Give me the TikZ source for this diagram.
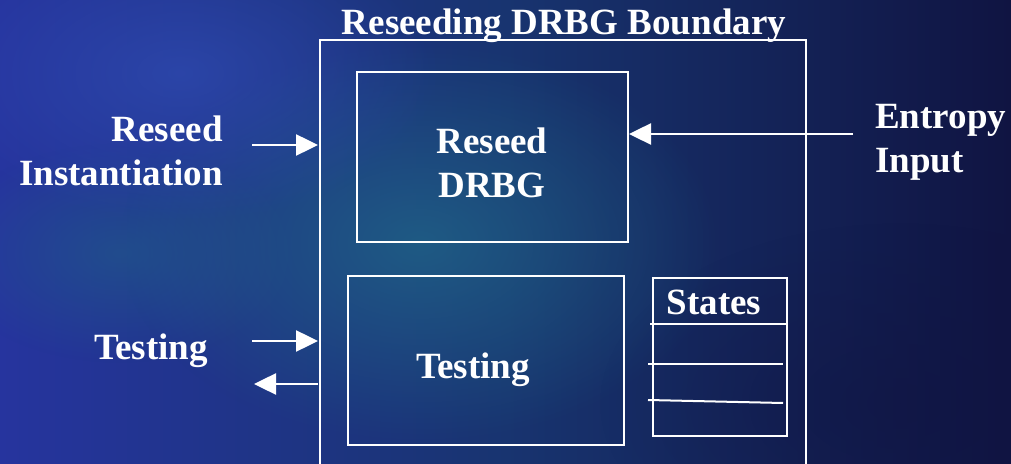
\documentclass[tikz,border=0pt]{standalone}
\usepackage{fontspec}
\setmainfont{Liberation Serif}
\usetikzlibrary{arrows.meta,fadings}
\tikzfading[name=softout,inner color=transparent!0,outer color=transparent!100]
\definecolor{bgA}{RGB}{38,52,158}
\definecolor{bgB}{RGB}{24,52,112}
\definecolor{bgC}{RGB}{16,20,66}
\definecolor{glow}{RGB}{32,100,135}
\definecolor{lite}{RGB}{50,80,185}
\tikzset{
  lbl/.style={text=white,font=\fontsize{37}{44}\selectfont\bfseries,inner sep=0pt},
  wline/.style={draw=white,line width=2pt},
  box/.style={draw=white,line width=2pt},
  arr/.style={white,line width=2.5pt,-{Triangle[length=22pt,width=21pt]}},
}
\begin{document}
\begin{tikzpicture}[x=1pt,y=1pt]
\useasboundingbox (0,0) rectangle (1011,463);
% background
\shade[left color=bgA,right color=bgC,middle color=bgB] (0,0) rectangle (1011,463);
\fill[glow,path fading=softout,opacity=0.8] (420,220) ellipse (300 and 200);
\fill[glow,path fading=softout,opacity=0.5] (120,210) ellipse (180 and 110);
\fill[lite,path fading=softout,opacity=0.6] (180,390) ellipse (260 and 150);
\fill[bgC,path fading=softout,opacity=0.5] (900,60) ellipse (300 and 180);
% outer boundary
\draw[wline] (320,-2) -- (320,423) -- (806,423) -- (806,-2);
\node[lbl,anchor=base] (title) at (564,428) {Reseeding DRBG Boundary};
% inner boxes
\node[box,minimum width=271pt,minimum height=170pt,inner sep=0pt] (drbg) at (492.5,306) {};
\node[lbl,align=center] (drbgtxt) at (492,300) {Reseed\\DRBG};
\node[box,minimum width=276pt,minimum height=169pt,inner sep=0pt] (test) at (486,102.5) {};
\node[lbl] (testtxt) at (473,93) {Testing};
\node[box,minimum width=134pt,minimum height=158pt,inner sep=0pt] (states) at (720,106) {};
\node[lbl,anchor=base] (statestxt) at (714,148) {States};
\coordinate (s1l) at (650,139); \coordinate (s1r) at (786,139);
\coordinate (s2l) at (648,99);  \coordinate (s2r) at (783,99);
\coordinate (s3l) at (648,63);  \coordinate (s3r) at (783,60);
\draw[wline] (s1l) -- (s1r);
\draw[wline] (s2l) -- (s2r);
\draw[wline] (s3l) -- (s3r);
% labels
\node[lbl,align=right,anchor=east] (reinst) at (223,312) {Reseed\\Instantiation};
\node[lbl,anchor=east] (testlbl) at (208,112) {Testing};
\node[lbl,align=left,anchor=west] (entropy) at (875,321) {Entropy\\Input};
% arrows
\coordinate (a1s) at (252,318); \coordinate (a1e) at (318,318);
\coordinate (a2s) at (252,122); \coordinate (a2e) at (318,122);
\coordinate (a3s) at (318,79);  \coordinate (a3e) at (254,79);
\coordinate (a4s) at (853,329); \coordinate (a4e) at (drbg.east |- a4s);
\draw[arr] (a1s) -- (a1e);
\draw[arr] (a2s) -- (a2e);
\draw[arr] (a3s) -- (a3e);
\draw[arr] (a4s) -- (a4e);
\end{tikzpicture}
\end{document}
